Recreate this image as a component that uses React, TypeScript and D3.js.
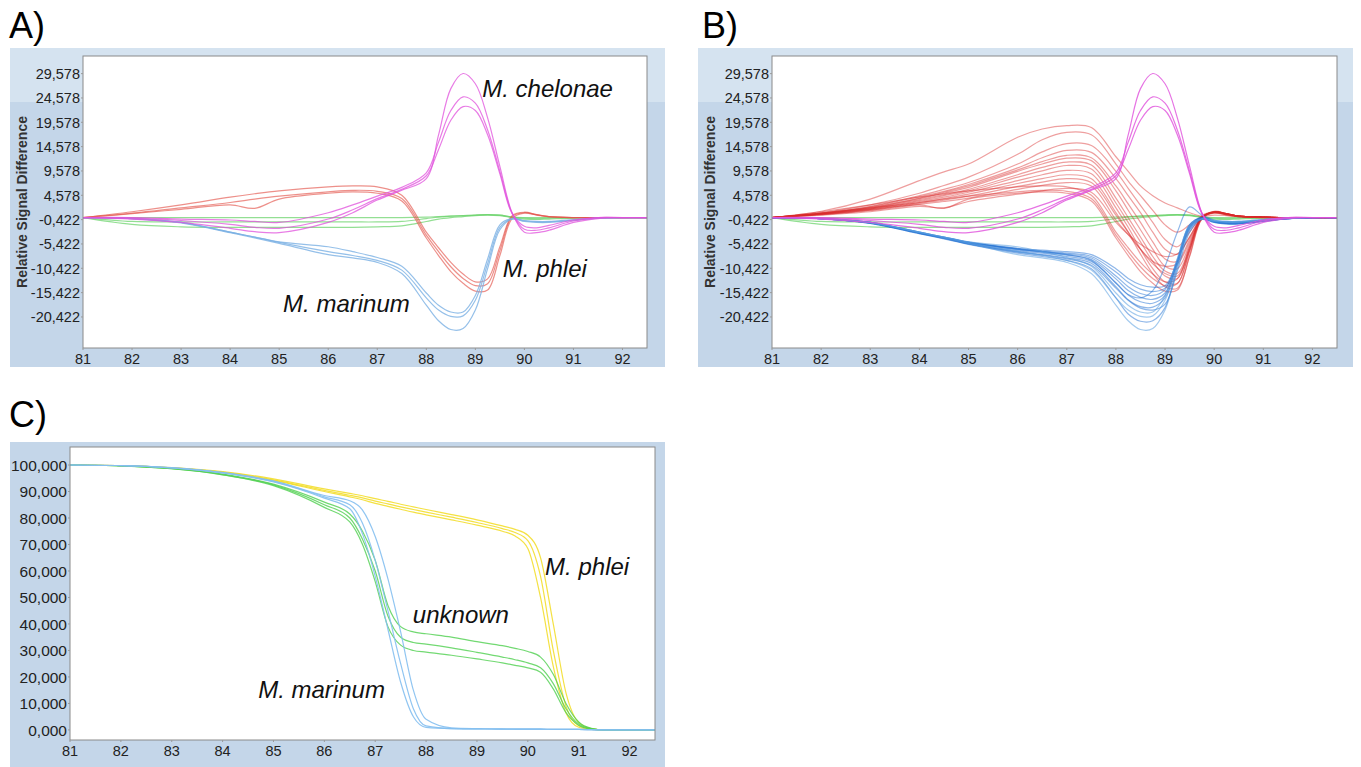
import React from 'react';
import * as d3 from 'd3';

const W = 1361;
const H = 767;

// melt temperatures used for panels A and B
const tempsAB = [81, 82, 83, 84, 84.5, 85, 86, 86.5, 87, 87.5, 88, 88.25, 88.5, 88.75, 89, 89.25, 89.5, 89.75, 90, 90.25, 90.5, 91, 91.5, 92, 92.5];
// melt temperatures used for panel C
const tempsC = [81, 82, 83, 84, 85, 86, 86.5, 86.75, 87, 87.25, 87.5, 87.75, 88, 88.5, 89, 89.5, 89.75, 90, 90.25, 90.5, 90.75, 91, 91.25, 91.5, 92, 92.5];

const xTicks = [81, 82, 83, 84, 85, 86, 87, 88, 89, 90, 91, 92];
const yTicksDiff = [-20.422, -15.422, -10.422, -5.422, -0.422, 4.578, 9.578, 14.578, 19.578, 24.578, 29.578];
const yTicksMelt = [0, 10, 20, 30, 40, 50, 60, 70, 80, 90, 100];

// difference plot, panel A
const phleiA = [
  [0, 1.2, 2.6, 4.2, 4.9, 5.5, 6.3, 6.5, 6.3, 4.6, -3.0, -6.2, -9.2, -11.6, -13.2, -12.6, -6.0, 0.4, 1.1, 0.6, 0.2, 0, 0, 0, 0],
  [0, 0.9, 2.0, 3.1, 3.8, 4.4, 5.3, 5.6, 5.4, 3.9, -3.6, -7.0, -10.1, -12.5, -14.0, -13.6, -6.8, 0.2, 1.0, 0.6, 0.2, 0, 0, 0, 0],
  [0, 0.8, 1.7, 2.6, 1.9, 3.8, 5.0, 5.3, 5.0, 3.4, -4.2, -7.8, -11.1, -13.5, -15.1, -14.9, -7.8, -0.2, 0.9, 0.5, 0.2, 0, 0, 0, 0],
];
const marinumA = [
  [0, -0.2, -1.0, -3.0, -4.0, -5.0, -6.0, -7.0, -8.2, -10.0, -15.5, -18.0, -19.4, -19.4, -16.0, -8.5, -1.5, -0.2, -0.6, -0.8, -0.8, -0.4, -0.1, 0, 0],
  [0, -0.2, -1.0, -3.0, -4.0, -5.1, -7.0, -7.8, -8.8, -10.8, -16.5, -19.0, -20.3, -20.2, -17.0, -9.5, -2.0, -0.3, -0.7, -0.9, -0.9, -0.5, -0.1, 0, 0],
  [0, -0.2, -1.1, -3.1, -4.2, -5.3, -7.6, -8.3, -9.2, -11.5, -18.0, -21.2, -23.0, -22.8, -19.0, -10.5, -2.5, -0.3, -0.8, -1.0, -1.0, -0.6, -0.1, 0, 0],
];
const chelonae = [
  [0, -0.3, -1.0, -2.2, -2.9, -3.1, -1.0, 1.0, 3.6, 5.6, 8.0, 17.0, 26.5, 29.6, 27.5, 20.5, 10.5, 1.0, -3.0, -3.1, -2.6, -1.0, -0.2, 0, 0],
  [0, 0, -0.3, -0.5, -0.8, -1.0, 1.0, 2.6, 4.4, 6.2, 9.2, 15.5, 22.0, 24.8, 23.5, 18.0, 9.5, 0.9, -2.4, -2.6, -2.1, -0.7, 0, 0, 0],
  [0, -0.1, -0.6, -1.4, -2.0, -2.2, -0.3, 1.6, 3.9, 5.8, 8.6, 14.0, 20.0, 22.8, 22.0, 17.0, 9.0, 0.8, -1.8, -2.1, -1.6, -0.5, 0, 0, 0],
];
const reference = [
  [0, 0, 0, 0, 0, 0, 0, 0, 0, 0, 0.1, 0.2, 0.3, 0.4, 0.5, 0.6, 0.5, 0.1, 0, 0, 0, 0, 0, 0, 0],
  [0, -0.8, -0.9, -0.9, -0.9, -0.9, -0.9, -0.9, -0.9, -0.8, -0.2, 0.1, 0.3, 0.4, 0.5, 0.6, 0.5, 0.1, -0.1, -0.2, -0.1, 0, 0, 0, 0],
  [0, -1.4, -1.9, -2.0, -2.0, -2.0, -2.0, -2.0, -1.9, -1.7, -0.8, -0.3, 0, 0.2, 0.4, 0.5, 0.4, 0, -0.3, -0.4, -0.3, -0.1, 0, 0, 0],
];

// extra isolates in panel B
const phleiB = [
  [0, 1.3, 3.8, 7.6, 9.4, 11.0, 16.5, 18.2, 18.9, 18.5, 12.5, 9.5, 6.5, 4.5, 3.0, 2.0, 1.0, 0.3, 0.5, 0.4, 0.2, 0.1, 0, 0, 0],
  [0, 1.0, 2.6, 5.0, 6.6, 8.3, 13.0, 16.0, 17.5, 17.0, 11.0, 7.5, 4.5, 1.5, -1.5, -3.0, -1.5, 0.2, 1.0, 0.7, 0.3, 0.1, 0, 0, 0],
  [0, 0.9, 2.3, 4.5, 5.8, 7.2, 11.0, 13.5, 15.2, 14.8, 9.5, 6.0, 2.5, -1.0, -4.5, -6.0, -3.0, 0.2, 1.0, 0.7, 0.3, 0.1, 0, 0, 0],
  [0, 0.9, 2.2, 4.3, 5.4, 6.8, 10.2, 12.3, 13.8, 13.4, 8.0, 4.5, 1.0, -3.0, -6.5, -7.5, -4.0, 0, 1.1, 0.7, 0.3, 0.1, 0, 0, 0],
  [0, 0.8, 2.1, 4.0, 5.2, 6.5, 9.8, 11.5, 12.8, 12.3, 6.5, 2.8, -1.0, -5.0, -8.5, -9.0, -4.5, 0, 1.2, 0.8, 0.3, 0.1, 0, 0, 0],
  [0, 0.8, 2.0, 3.9, 5.0, 6.2, 9.5, 11.0, 12.2, 11.7, 5.5, 1.5, -2.5, -6.5, -10.0, -10.5, -5.5, 0, 1.2, 0.8, 0.3, 0.1, 0, 0, 0],
  [0, 0.8, 1.9, 3.7, 4.7, 5.8, 8.8, 10.3, 11.4, 10.8, 4.0, 0, -4.0, -8.0, -11.0, -11.5, -6.0, 0, 1.3, 0.8, 0.3, 0.1, 0, 0, 0],
  [0, 0.7, 1.8, 3.5, 4.5, 5.5, 8.3, 9.6, 10.7, 10.0, 3.0, -1.0, -5.0, -9.0, -12.0, -12.5, -6.5, 0, 1.2, 0.8, 0.3, 0.1, 0, 0, 0],
  [0, 0.7, 1.7, 3.3, 4.2, 5.2, 7.6, 8.8, 9.7, 9.0, 2.0, -2.0, -6.5, -10.5, -13.2, -13.5, -7.0, -0.2, 1.2, 0.8, 0.3, 0.1, 0, 0, 0],
  [0, 0.7, 1.6, 3.1, 3.9, 4.8, 7.0, 8.0, 8.8, 8.0, 1.0, -3.0, -7.5, -11.5, -14.2, -14.5, -8.0, -0.3, 1.1, 0.8, 0.3, 0.1, 0, 0, 0],
  [0, 0.6, 1.5, 2.9, 3.6, 4.4, 6.4, 7.3, 8.0, 7.2, 0.5, -3.0, -6.5, -9.5, -11.5, -12.0, -6.5, 0, 1.2, 0.8, 0.3, 0.1, 0, 0, 0],
  [0, 0.6, 1.4, 2.7, 3.3, 4.0, 5.8, 6.6, 7.2, 6.5, -0.5, -3.5, -6.5, -9.0, -10.0, -9.5, -5.0, 0, 1.1, 0.7, 0.3, 0.1, 0, 0, 0],
  [0, 0.5, 1.2, 2.3, 2.0, 3.3, 4.8, 5.5, 6.0, 5.2, -1.0, -3.5, -5.5, -7.0, -8.0, -7.5, -4.0, 0, 1.0, 0.7, 0.3, 0.1, 0, 0, 0],
];
const marinumB = [
  [0, -0.2, -1.0, -3.0, -4.0, -5.0, -6.3, -6.7, -7.0, -7.6, -10.5, -12.5, -13.8, -14.3, -14.0, -9.0, -2.5, -0.3, -0.8, -1.0, -1.0, -0.6, -0.2, 0, 0],
  [0, -0.2, -1.0, -3.1, -4.1, -5.1, -6.4, -6.9, -7.3, -8.0, -11.2, -13.3, -14.7, -15.2, -14.5, -9.5, -2.0, 0, -0.7, -0.9, -0.9, -0.5, -0.1, 0, 0],
  [0, -0.2, -1.1, -3.1, -4.1, -5.1, -6.5, -7.0, -7.5, -8.3, -12.0, -14.2, -15.6, -16.0, -14.8, -8.5, -1.5, 0, -0.8, -1.1, -1.1, -0.6, -0.2, 0, 0],
  [0, -0.2, -1.1, -3.2, -4.2, -5.2, -6.6, -7.1, -7.7, -8.6, -12.6, -15.0, -16.4, -16.8, -15.5, -9.0, -1.8, -0.1, -0.9, -1.2, -1.2, -0.7, -0.2, 0, 0],
  [0, -0.2, -1.1, -3.2, -4.2, -5.3, -6.8, -7.3, -8.0, -9.0, -13.4, -15.9, -17.3, -17.6, -16.0, -9.0, -1.5, 0, -0.8, -1.0, -1.0, -0.6, -0.2, 0, 0],
  [0, -0.2, -1.2, -3.3, -4.3, -5.4, -7.0, -7.6, -8.3, -9.4, -14.2, -16.9, -18.3, -18.4, -16.5, -9.5, -2.0, -0.2, -0.9, -1.2, -1.2, -0.7, -0.2, 0, 0],
  [0, -0.2, -1.0, -3.0, -4.0, -5.1, -6.5, -7.0, -7.6, -8.8, -13.5, -15.8, -16.5, -15.0, -10.0, -3.0, 2.2, 0.5, -0.5, -0.8, -0.8, -0.4, -0.1, 0, 0],
  [0, -0.2, -1.2, -3.3, -4.4, -5.5, -7.3, -8.0, -8.8, -10.5, -16.5, -19.8, -21.3, -21.2, -18.5, -10.0, -2.3, -0.3, -1.0, -1.3, -1.3, -0.8, -0.2, 0, 0],
  [0, -0.2, -1.1, -3.2, -4.3, -5.4, -7.1, -7.7, -8.5, -9.8, -14.5, -17.0, -18.6, -19.0, -17.8, -11.0, -3.0, -0.4, -1.0, -1.3, -1.3, -0.8, -0.2, 0, 0],
];

// normalized melt curves, panel C
const phleiC = [
  [100, 99.8, 98.9, 97.2, 94.2, 90.0, 88.0, 86.9, 85.5, 84.4, 83.3, 82.2, 81.2, 79.3, 77.3, 75.0, 73.2, 68.5, 50, 24, 6.5, 1.0, 0.2, 0, 0, 0],
  [100, 99.8, 98.9, 97.3, 94.4, 90.4, 88.6, 87.6, 86.4, 85.3, 84.2, 83.2, 82.2, 80.3, 78.3, 76.0, 74.5, 71.5, 58, 30, 9, 1.6, 0.3, 0, 0, 0],
  [100, 99.8, 99.0, 97.5, 94.8, 91.0, 89.3, 88.4, 87.3, 86.3, 85.2, 84.2, 83.2, 81.3, 79.3, 77.0, 75.7, 73.5, 65, 40, 14, 2.8, 0.5, 0, 0, 0],
];
const unknownC = [
  [100, 99.7, 98.7, 96.6, 92.8, 86.0, 81.5, 75, 64, 47, 39, 37, 36.3, 35, 33.3, 31.8, 30.8, 29.6, 27.5, 21, 10, 3, 0.6, 0, 0, 0],
  [100, 99.7, 98.6, 96.4, 92.5, 85.0, 80, 72, 60, 43, 35, 33, 32.4, 31, 29.3, 27.5, 26.5, 25.3, 23.5, 17.5, 8, 2.2, 0.4, 0, 0, 0],
  [100, 99.7, 98.6, 96.3, 92.2, 84.0, 78.5, 70, 56, 39, 32, 30, 29.4, 28.2, 26.8, 25.3, 24.4, 23.4, 21.8, 15.5, 6.5, 1.8, 0.3, 0, 0, 0],
];
const marinumC = [
  [100, 99.8, 98.9, 97.0, 93.6, 87.5, 83.5, 74, 58, 38, 18, 5, 1.0, 0.5, 0.4, 0.3, 0.3, 0.3, 0.3, 0.2, 0.2, 0.2, 0.1, 0, 0, 0],
  [100, 99.8, 98.9, 97.0, 93.8, 88.0, 85, 78, 64, 45, 25, 8, 1.5, 0.5, 0.4, 0.3, 0.3, 0.3, 0.3, 0.2, 0.2, 0.2, 0.1, 0, 0, 0],
  [100, 99.8, 99.0, 97.2, 94.0, 88.5, 86.5, 83, 73, 57, 37, 15, 4, 0.8, 0.5, 0.4, 0.3, 0.3, 0.3, 0.2, 0.2, 0.2, 0.1, 0, 0, 0],
];

const font = "'Liberation Sans', Arial, Helvetica, sans-serif";
const fmt = (v: number) => v.toFixed(3).replace('.', ',');

type Series = { values: number[]; color: string; opacity: number; width: number };
type Label = { text: string; t: number; v: number };

function Panel({ id, frame, plot, yDomain, yTicks, temps, series, labels, yTitle, tickSize, xTickSize, band, curve }: any) {
  const x = d3.scaleLinear().domain([81, 92.5]).range([plot.l, plot.r]);
  const y = d3.scaleLinear().domain(yDomain).range([plot.b, plot.t]);
  const line = d3.line<number>()
    .x((_, i) => x(temps[i]))
    .y(d => y(d))
    .curve(curve);

  return (
    <g>
      <rect x={frame.x} y={frame.y} width={frame.w} height={frame.h} fill="#c4d6e9" />
      {band > 0 && <rect x={frame.x} y={frame.y} width={frame.w} height={band} fill="#d5e3f0" />}
      <rect x={plot.l} y={plot.t} width={plot.r - plot.l} height={plot.b - plot.t} fill="#ffffff" />
      <clipPath id={`clip-${id}`}>
        <rect x={plot.l} y={plot.t} width={plot.r - plot.l} height={plot.b - plot.t} />
      </clipPath>
      <g clipPath={`url(#clip-${id})`} fill="none" strokeLinejoin="round">
        {series.map((s: Series, i: number) => (
          <path key={i} d={line(s.values) || ''} stroke={s.color} strokeOpacity={s.opacity} strokeWidth={s.width} />
        ))}
      </g>
      <rect x={plot.l} y={plot.t} width={plot.r - plot.l} height={plot.b - plot.t} fill="none" stroke="#8a8a8a" strokeWidth={1} />
      {yTicks.map((v: number) => (
        <g key={v}>
          <line x1={plot.l - 2} x2={plot.l} y1={y(v)} y2={y(v)} stroke="#9a9a9a" />
          <text x={plot.l - 3} y={y(v)} dy="0.36em" textAnchor="end" fontFamily={font} fontSize={tickSize} fill="#222">{fmt(v)}</text>
        </g>
      ))}
      {xTicks.map(t => (
        <g key={t}>
          <line x1={x(t)} x2={x(t)} y1={plot.b} y2={plot.b + 2} stroke="#9a9a9a" />
          <text x={x(t)} y={plot.b + 15.5} textAnchor="middle" fontFamily={font} fontSize={xTickSize} fill="#222">{t}</text>
        </g>
      ))}
      {yTitle && (
        <text transform={`translate(${frame.x + 17},${(plot.t + plot.b) / 2}) rotate(-90)`} textAnchor="middle"
          fontFamily={font} fontSize={14} fontWeight="bold" fill="#333">{yTitle}</text>
      )}
      {labels.map((lb: Label) => (
        <text key={lb.text} x={x(lb.t)} y={y(lb.v)} fontFamily={font} fontSize={24} fontStyle="italic" fill="#111">{lb.text}</text>
      ))}
    </g>
  );
}

const mk = (arrs: number[][], color: string, opacity: number, width = 1.2): Series[] =>
  arrs.map(values => ({ values, color, opacity, width }));

export default function App() {
  const catmull = d3.curveCatmullRom.alpha(0.5);

  const seriesA = [
    ...mk(reference, '#6fd46f', 0.75),
    ...mk(phleiA, '#e4554c', 0.65),
    ...mk(marinumA, '#7ab0e4', 0.8),
    ...mk(chelonae, '#e050dc', 0.75),
  ];
  const seriesB = [
    ...mk(reference, '#6fd46f', 0.75),
    ...mk(phleiB, '#d92a2a', 0.45),
    ...mk(phleiA, '#d92a2a', 0.45),
    ...mk(marinumB, '#1f70d4', 0.5),
    ...mk(marinumA, '#5a9ee0', 0.55),
    ...mk(chelonae, '#e050dc', 0.8),
  ];
  const seriesC = [
    ...mk(phleiC, '#f2dc22', 0.85),
    ...mk(unknownC, '#4fd04f', 0.8),
    ...mk(marinumC, '#84bff0', 0.9),
  ];

  return (
    <svg width={W} height={H} style={{ position: 'absolute', left: 0, top: 0, background: '#fff' }}>
      <text x={9} y={38} fontFamily={font} fontSize={36} fill="#000">A)</text>
      <text x={702} y={38} fontFamily={font} fontSize={36} fill="#000">B)</text>
      <text x={9} y={427} fontFamily={font} fontSize={36} fill="#000">C)</text>
      <Panel
        id="a"
        frame={{ x: 10, y: 48, w: 655, h: 319 }}
        plot={{ l: 83, t: 56, r: 647, b: 348 }}
        yDomain={[-26.8, 33.2]}
        yTicks={yTicksDiff}
        temps={tempsAB}
        series={seriesA}
        labels={[
          { text: 'M. chelonae', t: 89.14, v: 24.8 },
          { text: 'M. phlei', t: 89.56, v: -12.2 },
          { text: 'M. marinum', t: 85.08, v: -19.4 },
        ]}
        yTitle="Relative Signal Difference"
        tickSize={14.5}
        xTickSize={14.5}
        band={54}
        curve={catmull}
      />
      <Panel
        id="b"
        frame={{ x: 698, y: 48, w: 655, h: 319 }}
        plot={{ l: 772, t: 56, r: 1337, b: 348 }}
        yDomain={[-26.8, 33.2]}
        yTicks={yTicksDiff}
        temps={tempsAB}
        series={seriesB}
        labels={[]}
        yTitle="Relative Signal Difference"
        tickSize={14.5}
        xTickSize={14.5}
        band={54}
        curve={catmull}
      />
      <Panel
        id="c"
        frame={{ x: 10, y: 442, w: 655, h: 340 }}
        plot={{ l: 70, t: 447, r: 655, b: 740 }}
        yDomain={[-3.8, 106.8]}
        yTicks={yTicksMelt}
        temps={tempsC}
        series={seriesC}
        labels={[
          { text: 'M. phlei', t: 90.34, v: 58.5 },
          { text: 'unknown', t: 87.74, v: 40.4 },
          { text: 'M. marinum', t: 84.7, v: 12.05 },
        ]}
        yTitle={null}
        tickSize={15.5}
        xTickSize={14.5}
        band={0}
        curve={d3.curveMonotoneX}
      />
    </svg>
  );
}
